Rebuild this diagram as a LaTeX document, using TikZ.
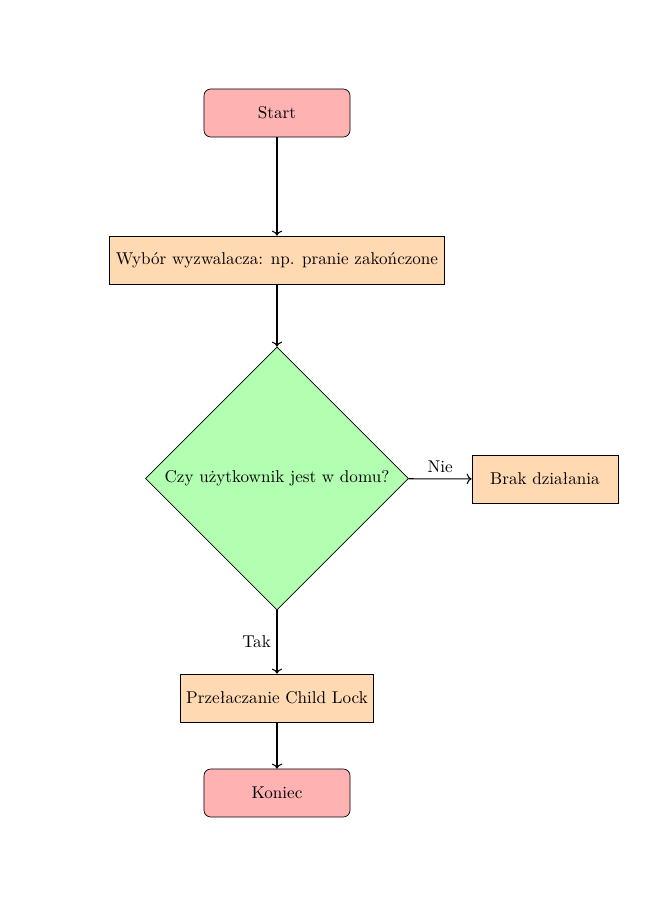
\documentclass[tikz,border=0pt]{standalone}
\usetikzlibrary{shapes.geometric,arrows.meta}
\definecolor{termfill}{rgb}{1,0.7,0.7}
\definecolor{procfill}{rgb}{1,0.85,0.7}
\definecolor{decfill}{rgb}{0.7,1,0.7}
\tikzset{
  terminal/.style={draw, rounded corners=4pt, fill=termfill, minimum width=85.4pt, minimum height=28.1pt, inner sep=3pt},
  process/.style={draw, fill=procfill, minimum height=28.1pt, inner sep=3pt},
  decision/.style={draw, diamond, aspect=1, fill=decfill, minimum width=153.8pt, minimum height=153.8pt, inner sep=0pt},
  conn/.style={semithick, ->},
  lbl/.style={font=\normalsize}
}
\begin{document}
\begin{tikzpicture}[x=0.5848pt, y=-0.5848pt]
\useasboundingbox (0,0) rectangle (668,919);
\node[terminal] (start) at (277,113) {Start};
\node[process, minimum width=195.9pt] (wybor) at (277,260) {Wybór wyzwalacza: np. pranie zakończone};
\node[decision] (dec) at (277,478.5) {Czy użytkownik jest w domu?};
\node[process, minimum width=85.4pt] (brak) at (545,479) {Brak działania};
\node[process, minimum width=112.9pt] (przel) at (277,698) {Przełaczanie Child Lock};
\node[terminal] (koniec) at (277,793) {Koniec};
\draw[conn] (start) -- (wybor);
\draw[conn] (wybor) -- (dec);
\draw[conn] (dec) -- node[above, lbl] {Nie} (brak);
\draw[conn] (dec) -- node[left, lbl] {Tak} (przel);
\draw[conn] (przel) -- (koniec);
\end{tikzpicture}
\end{document}
